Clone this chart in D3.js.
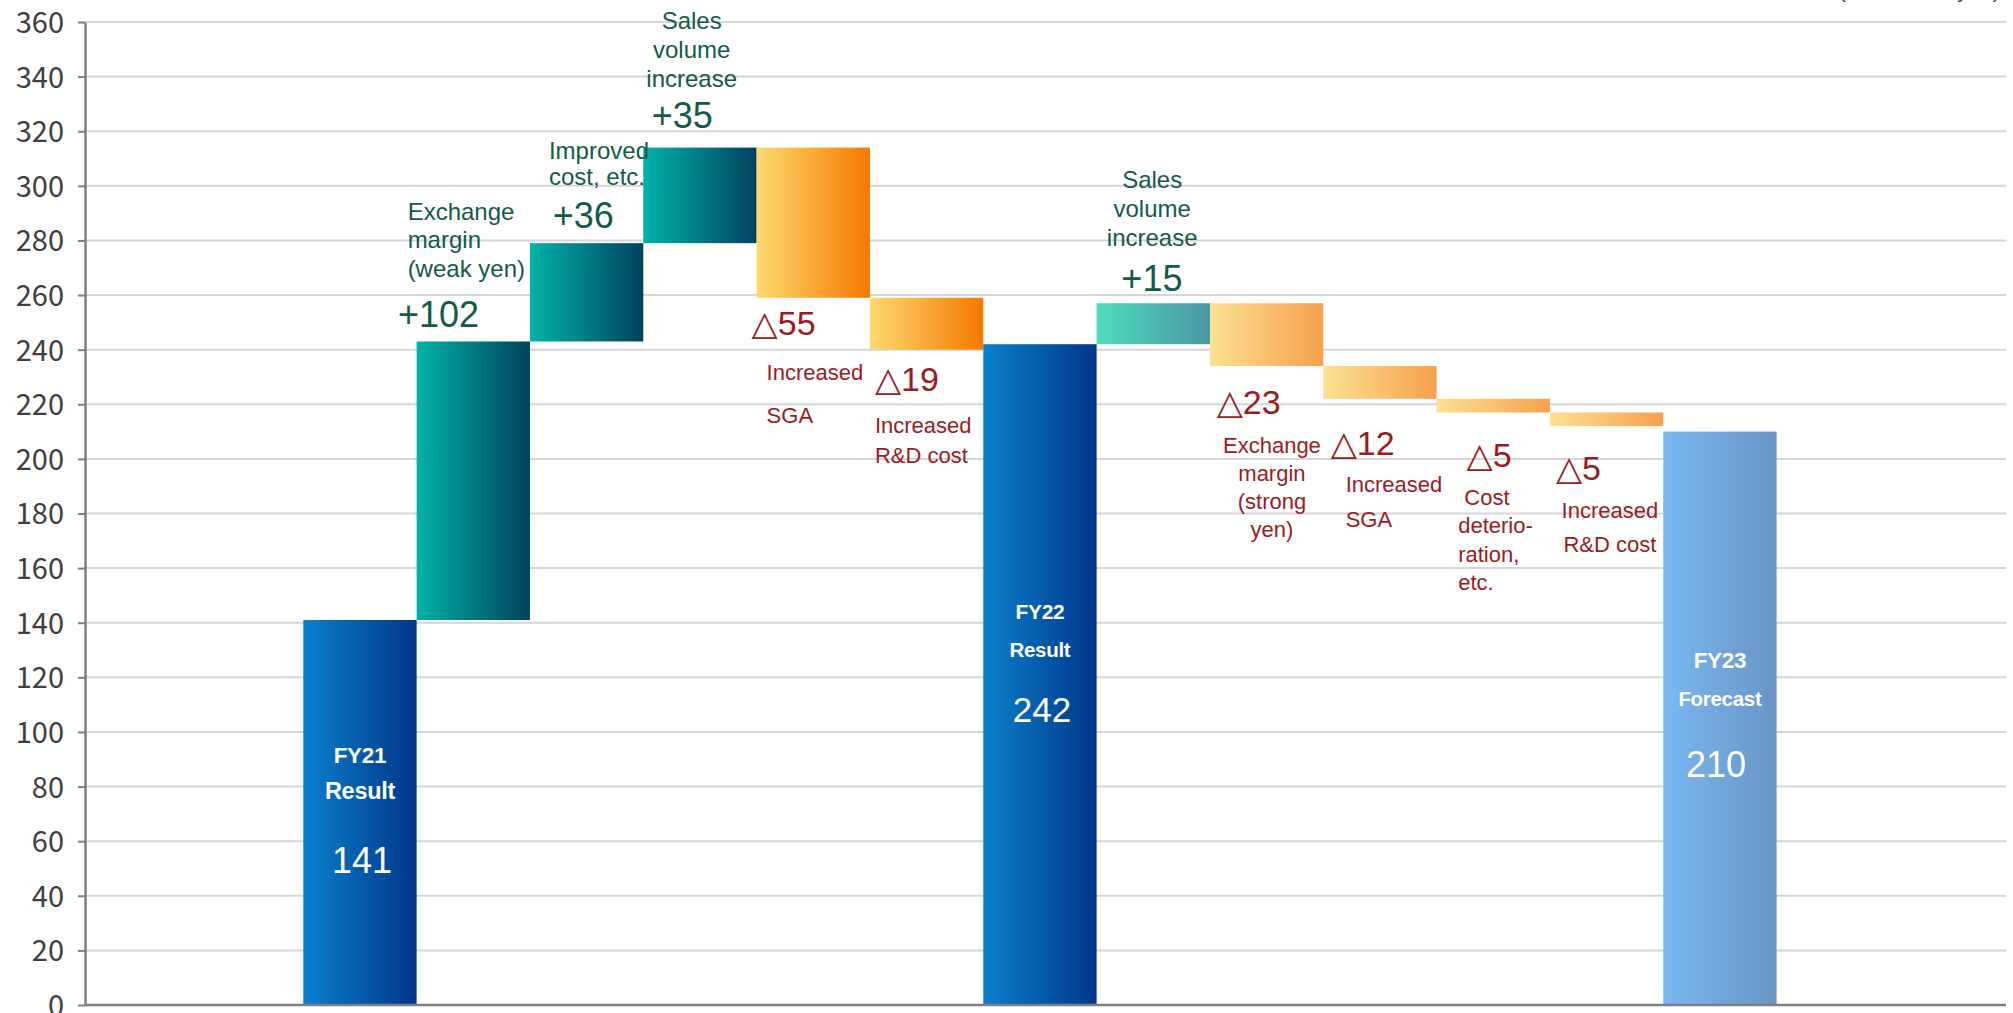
<!DOCTYPE html>
<html>
<head>
<meta charset="utf-8">
<script src="https://cdn.jsdelivr.net/npm/d3@7"></script>
<style>
  html, body { margin: 0; padding: 0; background: #ffffff; }
  svg { display: block; }
  .desc { font-family: "Liberation Sans", Arial, sans-serif; }
  .val  { font-family: "Liberation Sans", Arial, "DejaVu Sans", sans-serif; }
  .inbar { font-family: "Liberation Sans", Arial, sans-serif; fill: #ffffff; }
</style>
</head>
<body>
<svg id="chart" width="2013" height="1013"></svg>
<script>
// ---- Operating income bridge, FY21 result -> FY22 result -> FY23 forecast ----
const categories = [
  "FY21 Result", "Exchange margin (weak yen)", "Improved cost, etc.", "Sales volume increase",
  "Increased SGA", "Increased R&D cost", "FY22 Result", "Sales volume increase",
  "Exchange margin (strong yen)", "Increased SGA", "Cost deterioration, etc.",
  "Increased R&D cost", "FY23 Forecast"
];
const values = [141, 102, 36, 35, -55, -19, 242, 15, -23, -12, -5, -5, 210];
const kinds = ["total", "up", "up", "up", "down", "down", "total", "up2", "down2", "down2", "down2", "down2", "forecast"];
const valueLabels = ["141", "+102", "+36", "+35", "△55", "△19", "242", "+15", "△23", "△12", "△5", "△5", "210"];
const descLines = [
  ["FY21", "Result"],
  ["Exchange", "margin", "(weak yen)"],
  ["Improved", "cost, etc."],
  ["Sales", "volume", "increase"],
  ["Increased", "SGA"],
  ["Increased", "R&D cost"],
  ["FY22", "Result"],
  ["Sales", "volume", "increase"],
  ["Exchange", "margin", "(strong", "yen)"],
  ["Increased", "SGA"],
  [" Cost", "deterio-", "ration,", "etc."],
  ["Increased", "R&D cost"],
  ["FY23", "Forecast"]
];
const yTickValues = [0, 20, 40, 60, 80, 100, 120, 140, 160, 180, 200, 220, 240, 260, 280, 300, 320, 340, 360];
const unitLabel = "(100 million yen)";

// ---- layout ----
const axisX = 85, gridRight = 2006;
const plotTop = 22, plotBottom = 1005;

const svg = d3.select("#chart");

const x = d3.scaleBand()
  .domain(d3.range(categories.length))
  .range([303.3, 303.3 + 113.33 * categories.length])
  .paddingInner(0).paddingOuter(0);

const y = d3.scaleLinear().domain([0, 360]).range([plotBottom, plotTop]);

// ---- waterfall segments: deltas chain from the preceding total ----
let running = 0;
const bars = values.map((v, i) => {
  const k = kinds[i];
  let lo, hi;
  if (k === "total" || k === "forecast") {
    lo = 0; hi = v; running = v;
  } else {
    const start = running;
    running = start + v;
    lo = Math.min(start, running); hi = Math.max(start, running);
  }
  return { i, kind: k, lo, hi, value: v };
});

// ---- gradients ----
const defs = svg.append("defs");
const gradients = {
  total:    ["#0a80cc", "#00368a"],
  forecast: ["#7ab8f2", "#6995c5"],
  up:       ["#00b3a6", "#00425f"],
  up2:      ["#50dcbc", "#4a96a4"],
  down:     ["#fed971", "#f47900"],
  down2:    ["#fde193", "#f6a14d"]
};
Object.entries(gradients).forEach(([key, [c0, c1]]) => {
  const g = defs.append("linearGradient").attr("id", "grad-" + key)
    .attr("x1", "0%").attr("x2", "100%").attr("y1", "0%").attr("y2", "0%");
  g.append("stop").attr("offset", "0%").attr("stop-color", c0);
  g.append("stop").attr("offset", "100%").attr("stop-color", c1);
});

// ---- gridlines ----
svg.append("g").selectAll("line").data(yTickValues.filter(d => d > 0)).join("line")
  .attr("x1", axisX).attr("x2", gridRight)
  .attr("y1", d => y(d)).attr("y2", d => y(d))
  .attr("stroke", "#d6d6d6").attr("stroke-width", 2);

// ---- unit caption (top right) ----
svg.append("text").attr("class", "desc")
  .attr("x", 2000).attr("y", -3).attr("text-anchor", "end")
  .attr("font-size", 22).attr("fill", "#404040").text(unitLabel);

// ---- bars ----
svg.append("g").selectAll("rect").data(bars).join("rect")
  .attr("x", d => x(d.i))
  .attr("width", x.bandwidth())
  .attr("y", d => y(d.hi))
  .attr("height", d => y(d.lo) - y(d.hi))
  .attr("fill", d => "url(#grad-" + d.kind + ")");

// ---- y axis ----
const yAxis = d3.axisLeft(y).tickValues(yTickValues).tickSize(7).tickPadding(14).tickSizeOuter(0);
const ga = svg.append("g").attr("transform", `translate(${axisX},0)`).call(yAxis);
ga.select(".domain").attr("stroke", "#7f7f7f").attr("stroke-width", 2.5);
ga.selectAll(".tick line").attr("stroke", "#7f7f7f").attr("stroke-width", 2);
ga.selectAll(".tick text")
  .attr("font-family", "'Noto Sans CJK JP', 'Noto Sans', sans-serif")
  .attr("font-size", 29).attr("fill", "#404040").attr("dy", "0.36em");

// x baseline
svg.append("line").attr("x1", axisX).attr("x2", gridRight)
  .attr("y1", y(0)).attr("y2", y(0))
  .attr("stroke", "#7f7f7f").attr("stroke-width", 2.5);

// ---- annotation placement (offsets from bar's left edge and its outer end) ----
const GREEN = "#135b46", RED = "#9a1c22";
const annot = {
  1:  { vdx: -18.7, vdy: -14.5, vAnchor: "start", dx: -9,   dys: [-121.5, -93.5, -64.5], anchor: "start" },
  2:  { vdx: 22.7,  vdy: -15,   vAnchor: "start", dx: 19,   dys: [-84, -58], anchor: "start" },
  3:  { vdx: 8.4,   vdy: -19.6, vAnchor: "start", dx: 48.4, dys: [-118.6, -89.6, -60.6], anchor: "middle" },
  4:  { vdx: -5,    vdy: 37,    vAnchor: "start", dx: 10,   dys: [82, 125], anchor: "start" },
  5:  { vdx: 5,     vdy: 41,    vAnchor: "start", dx: 5,    dys: [83.6, 113], anchor: "start" },
  7:  { vdx: 55.3,  vdy: -12.5, vAnchor: "middle", dx: 55.6, dys: [-114.9, -86.5, -57.2], anchor: "middle" },
  8:  { vdx: 6.7,   vdy: 48.3,  vAnchor: "start", dx: 62,   dys: [87, 115, 143, 171], anchor: "middle" },
  9:  { vdx: 7.4,   vdy: 56.2,  vAnchor: "start", dx: 22.4, dys: [92.9, 127.9], anchor: "start" },
  10: { vdx: 30,    vdy: 54.2,  vAnchor: "start", dx: 21.6, dys: [92.5, 121, 149.5, 178], anchor: "start" },
  11: { vdx: 6,     vdy: 53.9,  vAnchor: "start", dx: 60,   dys: [92.2, 125.6], anchor: "middle" }
};
// labels inside total bars: offsets from the bar top
const inBar = {
  0:  { dys: [143.3, 179, 252.7], sizes: [22.5, 23.5], valSize: 36, vdx: 2 },
  6:  { dys: [275, 312.5, 377.5], sizes: [21, 20.5], valSize: 35, vdx: 2 },
  12: { dys: [236.7, 274.4, 345.1], sizes: [22.5, 20.5], valSize: 36, vdx: -4 }
};

const labels = svg.append("g");
bars.forEach(b => {
  const left = x(b.i);
  const cx = left + x.bandwidth() / 2;
  if (inBar[b.i]) {
    const cfg = inBar[b.i];
    const top = y(b.hi);
    descLines[b.i].forEach((line, j) => {
      labels.append("text").attr("class", "inbar")
        .attr("x", cx).attr("y", top + cfg.dys[j]).attr("text-anchor", "middle")
        .attr("font-size", cfg.sizes[j]).attr("font-weight", "bold")
        .attr("letter-spacing", -0.3).text(line);
    });
    labels.append("text").attr("class", "inbar")
      .attr("x", cx + cfg.vdx).attr("y", top + cfg.dys[2]).attr("text-anchor", "middle")
      .attr("font-size", cfg.valSize).text(valueLabels[b.i]);
    return;
  }
  const a = annot[b.i];
  const isUp = b.value > 0;
  const edge = isUp ? y(b.hi) : y(b.lo);
  const color = isUp ? GREEN : RED;
  labels.append("text").attr("class", "val")
    .attr("x", left + a.vdx).attr("y", edge + a.vdy).attr("text-anchor", a.vAnchor)
    .attr("font-size", isUp ? 36 : 34).attr("fill", color)
    .text(valueLabels[b.i]);
  descLines[b.i].forEach((line, j) => {
    labels.append("text").attr("class", "desc")
      .attr("x", left + a.dx).attr("y", edge + a.dys[j]).attr("text-anchor", a.anchor)
      .attr("font-size", isUp ? 24 : 22).attr("fill", color)
      .attr("xml:space", "preserve")
      .text(line);
  });
});
</script>
</body>
</html>
